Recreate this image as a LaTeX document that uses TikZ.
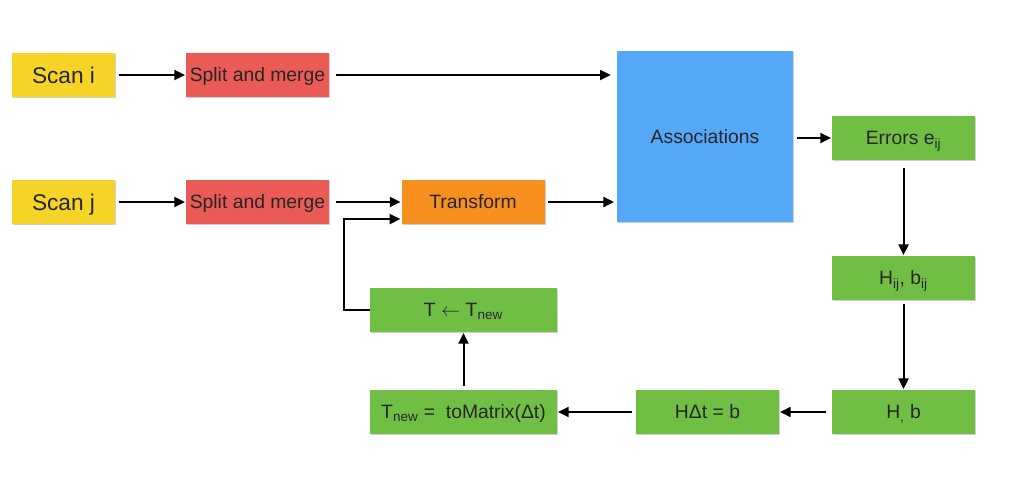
\documentclass[tikz,border=0pt]{standalone}
\usepackage{fontspec}
\setmainfont{Liberation Sans}
\usetikzlibrary{arrows.meta,shadows}
\definecolor{cyel}{HTML}{F5D327}
\definecolor{cred}{HTML}{EB5B56}
\definecolor{corg}{HTML}{F7901E}
\definecolor{cblu}{HTML}{55A8F8}
\definecolor{cgrn}{HTML}{70BF44}
\tikzset{
  boxbase/.style={draw=none, inner sep=0pt, text=black!85,
    text height=10.45pt, text depth=0pt,
    minimum width=107.25pt, minimum height=33pt, font=\fontsize{14.5}{17}\selectfont,
    drop shadow={shadow xshift=0.8pt, shadow yshift=-1pt, opacity=0.3, fill=black!60}},
  scanbox/.style={boxbase, fill=cyel, minimum width=77.25pt, text height=12.25pt, font=\fontsize{17}{20}\selectfont},
  splitbox/.style={boxbase, fill=cred},
  trbox/.style={boxbase, fill=corg},
  asbox/.style={boxbase, fill=cblu, minimum width=132pt, minimum height=128.25pt},
  grbox/.style={boxbase, fill=cgrn},
  widebox/.style={grbox, minimum width=140.25pt},
  conn/.style={line width=1.5pt, -{Triangle[length=8pt,width=7.5pt]}, shorten <=2.5pt, shorten >=0.5pt}
}
\begin{document}
\begin{tikzpicture}[x=0.75pt,y=-0.75pt]
\useasboundingbox (0,0) rectangle (1023,479);
\node[scanbox] (si) at (63.5,75) {Scan i};
\node[scanbox] (sj) at (63.5,202) {Scan j};
\node[splitbox] (m1) at (257.5,75) {Split and merge};
\node[splitbox] (m2) at (257.5,202) {Split and merge};
\node[trbox] (tr) at (473,202) {Transform};
\node[asbox] (as) at (705,136.5) {Associations};
\node[grbox] (er) at (903.5,138) {Errors e\textsubscript{ij}};
\node[grbox] (hij) at (903.5,278) {H\textsubscript{ij}, b\textsubscript{ij}};
\node[grbox] (hb) at (903.5,412) {H\textsubscript{,} b};
\node[grbox] (hd) at (707.5,412) {HΔt = b};
\node[widebox] (tn) at (463.5,412) {T\textsubscript{new} =\ \ toMatrix(Δt)};
\node[widebox] (tu) at (463.5,310) {T $\leftarrow$ T\textsubscript{new}};
\coordinate (fb) at (401,219);
\draw[conn] (si) -- (m1);
\draw[conn] (sj) -- (m2);
\draw[conn, shorten <=5pt, shorten >=4.5pt] (m1.east) -- (m1.east -| as.west);
\draw[conn, shorten <=5pt] (m2) -- (tr);
\draw[conn, shorten >=2pt] (tr.east) -- (tr.east -| as.west);
\draw[conn] (as.east |- er.west) -- (er.west);
\draw[conn, shorten <=6pt] (er) -- (hij);
\draw[conn] (hij) -- (hb);
\draw[conn, shorten <=4pt] (hb) -- (hd);
\draw[conn, shorten <=3pt] (hd) -- (tn);
\draw[conn] (tn) -- (tu);
\draw[conn, shorten <=0pt] (tu.west) -- ++(-26,0) |- (fb);
\end{tikzpicture}
\end{document}
